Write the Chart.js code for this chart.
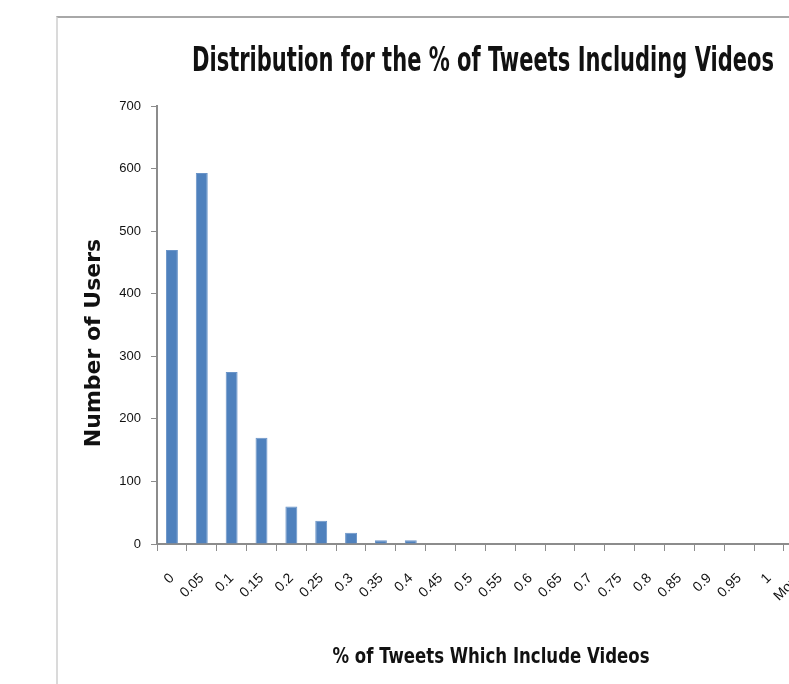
<!DOCTYPE html>
<html>
<head>
<meta charset="utf-8">
<script src="https://cdn.jsdelivr.net/npm/chart.js@4"></script>
<style>
    body { margin: 0; overflow: hidden; background: #fff; width: 789px; height: 684px; position: relative; }
    #frame { position: absolute; left: 56px; top: 16px; right: -10px; bottom: -10px; border-top: 2px solid #a8a8a8; border-left: 2px solid #dadada; }
    #holder { position: absolute; left: 0; top: 0; width: 830px; height: 684px; }
</style>
</head>
<body>
<div id="frame"></div>
<div id="holder"><canvas id="histChart"></canvas></div>
<script>
const binLabels = ["0", "0.05", "0.1", "0.15", "0.2", "0.25", "0.3", "0.35", "0.4", "0.45", "0.5",
    "0.55", "0.6", "0.65", "0.7", "0.75", "0.8", "0.85", "0.9", "0.95", "1", "More"];
const userCounts = [470, 593, 275, 170, 60, 37, 18, 6, 6, 0, 0,
    0, 0, 0, 0, 0, 0, 0, 0, 0, 0, 0];
const yTicks = [0, 100, 200, 300, 400, 500, 600, 700];

const chartTitle = "Distribution for the % of Tweets Including Videos";
const xTitle = "% of Tweets Which Include Videos";
const yTitle = "Number of Users";

const narrow = "'Liberation Sans Narrow', 'DejaVu Sans Condensed', sans-serif";
const tickFont = "'Liberation Sans', Arial, sans-serif";

// titles drawn by hand so they can be squeezed to the width of the original
const titlesPlugin = {
    id: "titles",
    afterDraw(chart) {
        const ctx = chart.ctx;
        ctx.save();
        ctx.fillStyle = "#111";
        ctx.textAlign = "center";
        ctx.textBaseline = "alphabetic";
        ctx.font = "bold 33px " + narrow;
        ctx.fillText(chartTitle, 483, 71, 582);
        ctx.font = "bold 22px " + narrow;
        ctx.fillText(xTitle, 491, 663, 317);
        ctx.translate(100, 343);
        ctx.rotate(-Math.PI / 2);
        ctx.font = "bold 22px 'DejaVu Sans', sans-serif";
        ctx.fillText(yTitle, 0, 0, 213);
        ctx.restore();
    }
};

new Chart(document.getElementById("histChart"), {
    type: "bar",
    data: {
        labels: binLabels,
        datasets: [{
            label: "Users",
            data: userCounts,
            backgroundColor: "#4f81bd",
            borderColor: "#6a94c8",
            borderWidth: 1,
            barPercentage: 0.4,
            categoryPercentage: 1.0
        }]
    },
    options: {
        responsive: true,
        maintainAspectRatio: false,
        animation: false,
        layout: { padding: { top: 106, right: 9, left: 0, bottom: 0 } },
        plugins: {
            legend: { display: false },
            tooltip: { enabled: false }
        },
        scales: {
            x: {
                afterFit(scale) { scale.height = 140; },
                grid: {
                    offset: true,
                    drawOnChartArea: false,
                    drawTicks: true,
                    tickLength: 7,
                    color: "#8c8c8c"
                },
                border: { color: "#8c8c8c", width: 2 },
                ticks: {
                    autoSkip: false,
                    minRotation: 45,
                    maxRotation: 45,
                    padding: 19,
                    color: "#111",
                    font: { family: tickFont, size: 14 }
                }
            },
            y: {
                min: 0,
                max: 700,
                afterFit(scale) { scale.width = 157; },
                afterBuildTicks(scale) { scale.ticks = yTicks.map(v => ({ value: v })); },
                grid: {
                    drawOnChartArea: false,
                    drawTicks: true,
                    tickLength: 6,
                    color: "#8c8c8c"
                },
                border: { color: "#8c8c8c", width: 2 },
                ticks: {
                    padding: 10,
                    color: "#111",
                    font: { family: tickFont, size: 13 }
                }
            }
        }
    },
    plugins: [titlesPlugin]
});
</script>
</body>
</html>
